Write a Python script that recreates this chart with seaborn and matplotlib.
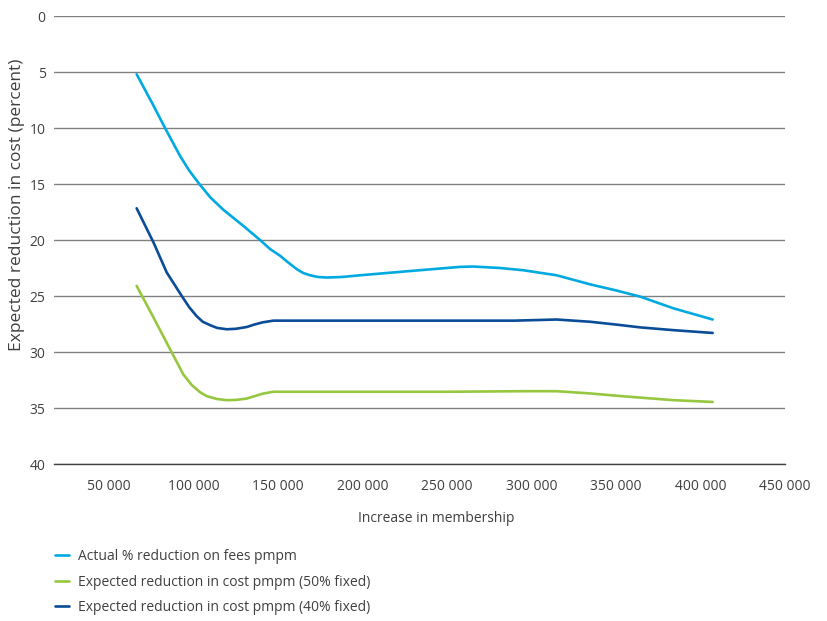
import pandas as pd
import matplotlib
matplotlib.use("Agg")
import matplotlib.pyplot as plt
import seaborn as sns

# Valori (membri, riduzione %)
light_x = [66400, 76000, 83200, 92100, 97500, 103500, 110000, 117700, 130000, 139400, 145300,
           151200, 156000, 161100, 165000, 169000, 173500, 178900, 188000, 198600, 228200,
           257700, 265600, 281400, 295200, 314900, 334700, 350000, 364200, 384000, 407200]
light_y = [5.2, 7.9, 10.0, 12.5, 13.8, 15.0, 16.2, 17.3, 18.8, 20.0, 20.8,
           21.4, 22.0, 22.6, 22.95, 23.15, 23.3, 23.35, 23.3, 23.15, 22.77,
           22.4, 22.37, 22.5, 22.7, 23.15, 23.96, 24.5, 25.05, 26.1, 27.1]

green_x = [66400, 76300, 86200, 94000, 99000, 104000, 108000, 114000, 119700, 125000,
           131500, 136000, 141000, 147300, 200000, 250000, 295000, 314900, 334700, 350000,
           364200, 384000, 407200]
green_y = [24.1, 26.9, 29.76, 32.0, 32.95, 33.6, 33.95, 34.2, 34.3, 34.28,
           34.16, 33.95, 33.72, 33.55, 33.55, 33.55, 33.5, 33.5, 33.7, 33.9,
           34.07, 34.3, 34.46]

dark_x = [66400, 76300, 84200, 93100, 97500, 101900, 105500, 109800, 114000, 119700,
          125000, 131500, 136000, 141000, 147300, 200000, 250000, 290000, 314900, 334700,
          350000, 364200, 384000, 407200]
dark_y = [17.17, 20.2, 22.9, 25.0, 26.0, 26.8, 27.3, 27.6, 27.85, 27.97,
          27.93, 27.77, 27.55, 27.35, 27.2, 27.2, 27.2, 27.2, 27.1, 27.3,
          27.55, 27.8, 28.05, 28.3]

series_names = ["Actual % reduction on fees pmpm",
                "Expected reduction in cost pmpm (50% fixed)",
                "Expected reduction in cost pmpm (40% fixed)"]
colors = ["#00A9E0", "#97C740", "#0A4C97"]

x_ticks = [50000, 100000, 150000, 200000, 250000, 300000, 350000, 400000, 450000]
y_ticks = [0, 5, 10, 15, 20, 25, 30, 35, 40]

# DataFrame in formato lungo
df = pd.concat([
    pd.DataFrame({"membri": light_x, "riduzione": light_y, "serie": series_names[0]}),
    pd.DataFrame({"membri": green_x, "riduzione": green_y, "serie": series_names[1]}),
    pd.DataFrame({"membri": dark_x, "riduzione": dark_y, "serie": series_names[2]}),
])

sns.set_style("white")
plt.rcParams["font.family"] = ["Open Sans", "DejaVu Sans"]
text_col = "#404040"

fig = plt.figure(figsize=(8.28, 6.21), dpi=100)
ax = fig.add_axes([54 / 828, 1 - 464 / 621, (785 - 54) / 828, (464 - 16) / 621])

sns.lineplot(data=df, x="membri", y="riduzione", hue="serie", palette=colors,
             linewidth=1.9, sort=False, estimator=None, ax=ax, legend=True)

ax.set_xlim(17500, 450000)
ax.set_ylim(40, 0)
ax.set_yticks(y_ticks)
ax.set_xticks(x_ticks)
ax.set_xticklabels([f"{v:,}".replace(",", " ") for v in x_ticks])

ax.grid(axis="y", color="#808080", linewidth=1.0)
ax.grid(axis="x", visible=False)
ax.set_axisbelow(True)
for s in ["top", "right", "left"]:
    ax.spines[s].set_visible(False)
ax.spines["bottom"].set_color("#404040")
ax.spines["bottom"].set_linewidth(1.0)

ax.tick_params(axis="x", direction="out", length=5, width=0.9, color="#404040",
               pad=6, labelsize=10, labelcolor=text_col)
ax.tick_params(axis="y", direction="in", length=2, width=0.9, color="#404040",
               pad=6, labelsize=10, labelcolor=text_col)

ax.set_xlabel("Increase in membership", fontsize=10, color=text_col)
ax.xaxis.set_label_coords((436 - 54) / 731, -(511 - 464) / 448)
ax.set_ylabel("Expected reduction in cost (percent)", fontsize=12.5, color=text_col)
ax.yaxis.set_label_coords(-(54 - 25) / 731, (464 - 205) / 448)

handles, labels = ax.get_legend_handles_labels()
ax.get_legend().remove()
fig.legend(handles, labels, loc="upper left", bbox_to_anchor=(55 / 828, 1 - 549 / 621),
           frameon=False, fontsize=10, handlelength=1.0, handletextpad=0.65,
           labelspacing=0.76, borderpad=0, borderaxespad=0, labelcolor=text_col)

fig.savefig("out.png", dpi=100)
